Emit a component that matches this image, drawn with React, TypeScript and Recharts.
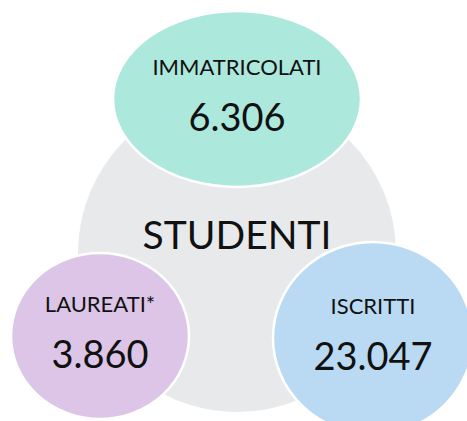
import {Scatter, ScatterChart, XAxis, YAxis} from "recharts";

const CATEGORIES = ['IMMATRICOLATI', 'LAUREATI*', 'ISCRITTI'];
const VALUES = [6306, 3860, 23047];
const CENTER_LABEL = 'STUDENTI';

// where each bubble sits on the 467x421 canvas (x, y in px), plus its look
const LAYOUT = [
    {x: 237, y: 99, rx: 124, ry: 88, fill: '#ace8dc'},
    {x: 100, y: 336, rx: 89, ry: 83, fill: '#dcc5e7'},
    {x: 373, y: 338, rx: 100, ry: 96, fill: '#b9daf2'},
];
const CENTER = {x: 237, y: 253, r: 159, fill: '#e8e9eb'};

const W = 467;
const H = 421;
const FONT = 'Lato, "Open Sans", sans-serif';

const fmt = (v: number) => String(v).replace(/\B(?=(\d{3})+(?!\d))/g, '.');

const bubbles = CATEGORIES.map((name, i) => ({
    name,
    value: VALUES[i],
    x: LAYOUT[i].x,
    y: LAYOUT[i].y,
    idx: i,
}));

const center = [{name: CENTER_LABEL, x: CENTER.x, y: CENTER.y}];

function Bubble(props: any) {
    const {cx, cy, payload} = props;
    const l = LAYOUT[payload.idx];
    return (
        <g>
            <ellipse cx={cx} cy={cy} rx={l.rx} ry={l.ry} fill={l.fill} stroke="#fff" strokeWidth={2.5}/>
            <text x={cx} y={cy - 24} textAnchor="middle" fontFamily={FONT} fontSize={22} fill="#111">
                {payload.name}
            </text>
            <text x={cx} y={cy + 32} textAnchor="middle" fontFamily={FONT} fontSize={38} fill="#111">
                {fmt(payload.value)}
            </text>
        </g>
    );
}

function CenterCircle(props: any) {
    const {cx, cy, payload} = props;
    return (
        <g>
            <circle cx={cx} cy={cy} r={CENTER.r} fill={CENTER.fill}/>
            <text x={cx} y={cy - 4} textAnchor="middle" fontFamily={FONT} fontSize={39} fill="#111">
                {payload.name}
            </text>
        </g>
    );
}

export default function App() {
    return (
        <div style={{position: 'absolute', left: 0, top: 0, background: '#fff'}}>
            <ScatterChart width={W} height={H} margin={{top: 0, right: 0, bottom: 0, left: 0}}>
                <XAxis type="number" dataKey="x" domain={[0, W]} hide/>
                <YAxis type="number" dataKey="y" domain={[0, H]} reversed hide/>
                <Scatter data={center} shape={CenterCircle} isAnimationActive={false}/>
                <Scatter data={bubbles} shape={Bubble} isAnimationActive={false}/>
            </ScatterChart>
        </div>
    );
}
